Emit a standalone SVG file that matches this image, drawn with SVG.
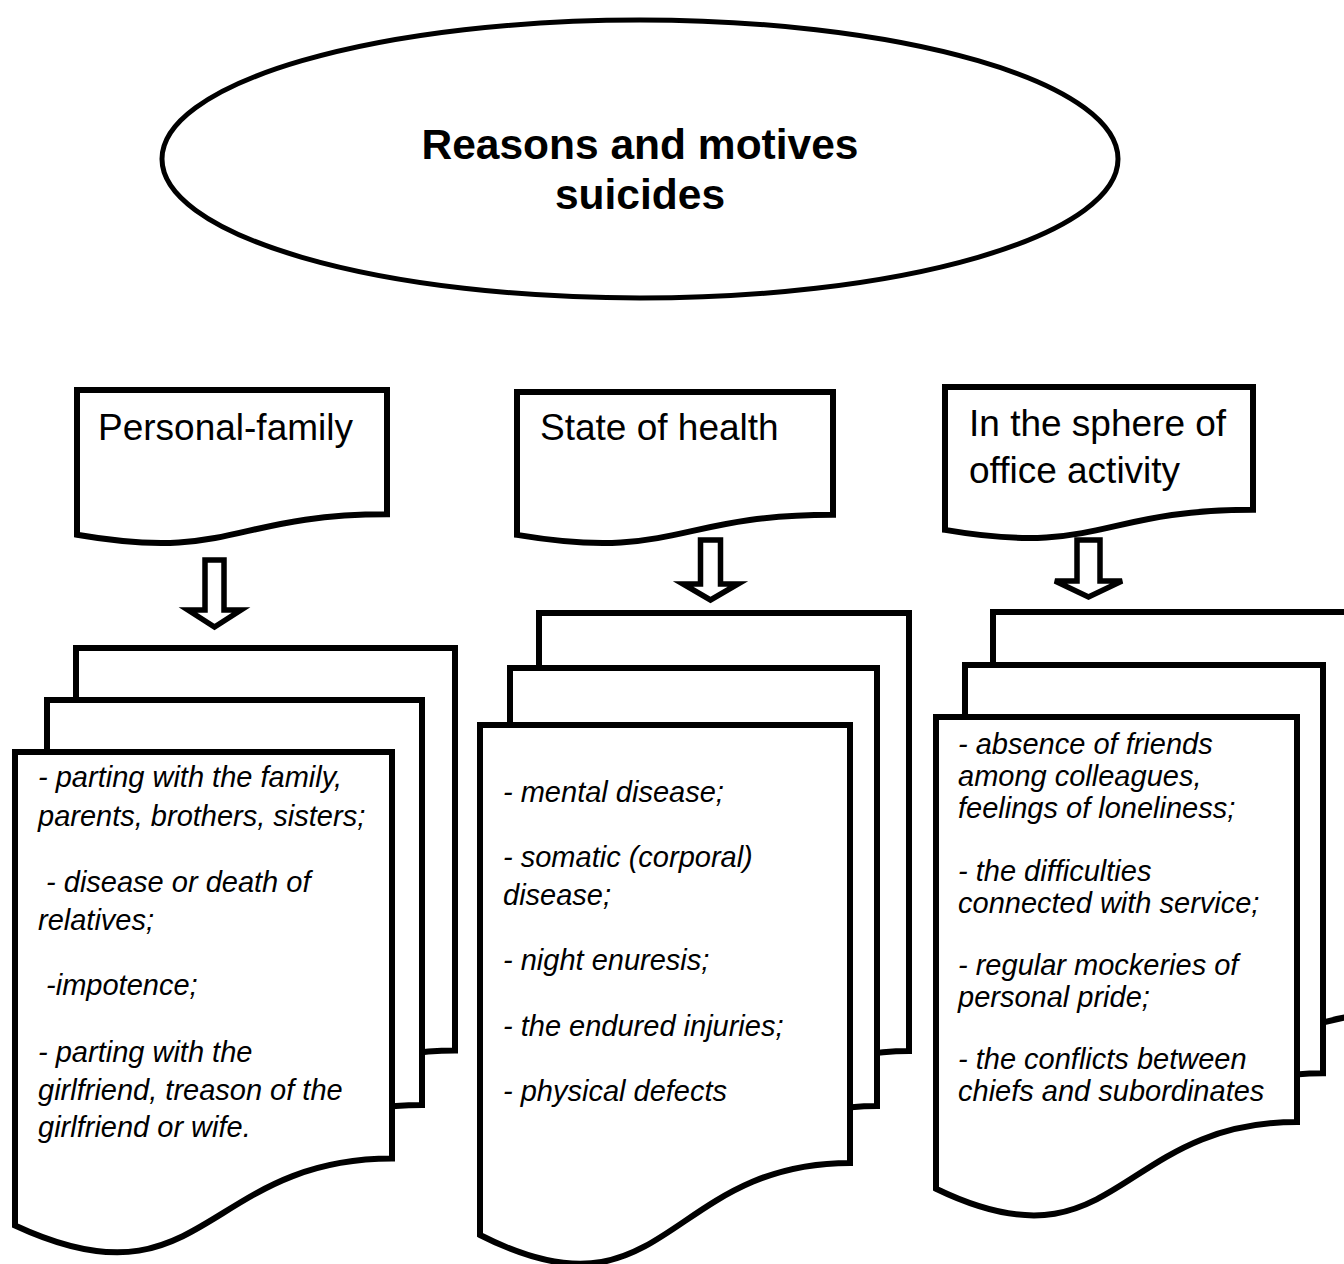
<svg xmlns="http://www.w3.org/2000/svg" width="1344" height="1264" viewBox="0 0 1344 1264">
<style>
.shape{fill:#fff;stroke:#000;stroke-width:6;stroke-linejoin:miter}
.ell{fill:#fff;stroke:#000;stroke-width:5}
.arrow{fill:#fff;stroke:#000;stroke-width:5.5;stroke-linejoin:miter}
.title{font-family:"Liberation Sans",Arial,sans-serif;font-size:42.5px;font-weight:bold;fill:#000;text-anchor:middle}
.head{font-family:"Liberation Sans",Arial,sans-serif;font-size:37px;fill:#000}
.body{font-family:"Liberation Sans",Arial,sans-serif;font-size:29px;font-style:italic;fill:#000}
</style>
<rect width="1344" height="1264" fill="#fff"/>

<g id="title">
<ellipse class="ell" cx="640" cy="159" rx="478" ry="139"/>
<text class="title" x="640" y="159">Reasons and motives</text>
<text class="title" x="640" y="209">suicides</text>
</g>

<g id="head-personal">
<path class="shape" d="M77,390 H387 V514.3 C232,514.3 232,561.6 77,534.8 Z"/>
<text class="head" x="98" y="440">Personal-family</text>
</g>
<g id="head-health">
<path class="shape" d="M517,392 H833 V514.7 C675,514.7 675,561.4 517,534.9 Z"/>
<text class="head" x="540" y="440">State of health</text>
</g>
<g id="head-office">
<path class="shape" d="M945,387 H1253 V509.7 C1099,509.7 1099,556.4 945,529.9 Z"/>
<text class="head" x="969" y="436">In the sphere of</text>
<text class="head" x="969" y="483">office activity</text>
</g>

<g id="connectors">
<path class="arrow" d="M205,560 H224 V610 H241 L214.5,627 L188,610 H205 Z"/>
<path class="arrow" d="M700.5,540 H720.5 V584 H738 L710.5,600 L683,584 H700.5 Z"/>
<path class="arrow" d="M1077,540 H1100 V581 H1122 L1088.5,597 L1055,581 H1077 Z"/>
</g>

<g id="list-personal">
<path class="shape" d="M76,648 H455 V1050.6 C265.5,1050.6 265.5,1203.7 76,1116.9 Z"/>
<path class="shape" d="M47,700 H422 V1105 C234.5,1105 234.5,1259 47,1171.7 Z"/>
<path class="shape" d="M15,752 H392 V1158.6 C203.5,1158.6 203.5,1313.2 15,1225.5 Z"/>
<text class="body" xml:space="preserve"><tspan x="38" y="787">- parting with the family,</tspan><tspan x="38" y="826">parents, brothers, sisters;</tspan><tspan x="38" y="892"> - disease or death of</tspan><tspan x="38" y="930">relatives;</tspan><tspan x="38" y="995"> -impotence;</tspan><tspan x="38" y="1062">- parting with the</tspan><tspan x="38" y="1100">girlfriend, treason of the</tspan><tspan x="38" y="1137">girlfriend or wife.</tspan></text>
</g>

<g id="list-health">
<path class="shape" d="M539,613 H909 V1050.9 C724,1050.9 724,1217.4 539,1123 Z"/>
<path class="shape" d="M510,668 H877 V1105.9 C693.5,1105.9 693.5,1272.4 510,1178 Z"/>
<path class="shape" d="M480,725 H850 V1162.9 C665,1162.9 665,1329.4 480,1235 Z"/>
<text class="body"><tspan x="503" y="802">- mental disease;</tspan><tspan x="503" y="867">- somatic (corporal)</tspan><tspan x="503" y="905">disease;</tspan><tspan x="503" y="970">- night enuresis;</tspan><tspan x="503" y="1036">- the endured injuries;</tspan><tspan x="503" y="1101">- physical defects</tspan></text>
</g>

<g id="list-office">
<path class="shape" d="M993,612 H1413 V1011.4 C1203,1011.4 1203,1163.3 993,1077.1 Z"/>
<path class="shape" d="M965,665 H1323 V1073.2 C1144,1073.2 1144,1228.5 965,1140.4 Z"/>
<path class="shape" d="M936,717 H1297 V1122 C1116.5,1122 1116.5,1276 936,1188.7 Z"/>
<text class="body"><tspan x="958" y="754">- absence of friends</tspan><tspan x="958" y="786">among colleagues,</tspan><tspan x="958" y="818">feelings of loneliness;</tspan><tspan x="958" y="881">- the difficulties</tspan><tspan x="958" y="913">connected with service;</tspan><tspan x="958" y="975">- regular mockeries of</tspan><tspan x="958" y="1007">personal pride;</tspan><tspan x="958" y="1069">- the conflicts between</tspan><tspan x="958" y="1101">chiefs and subordinates</tspan></text>
</g>
</svg>
